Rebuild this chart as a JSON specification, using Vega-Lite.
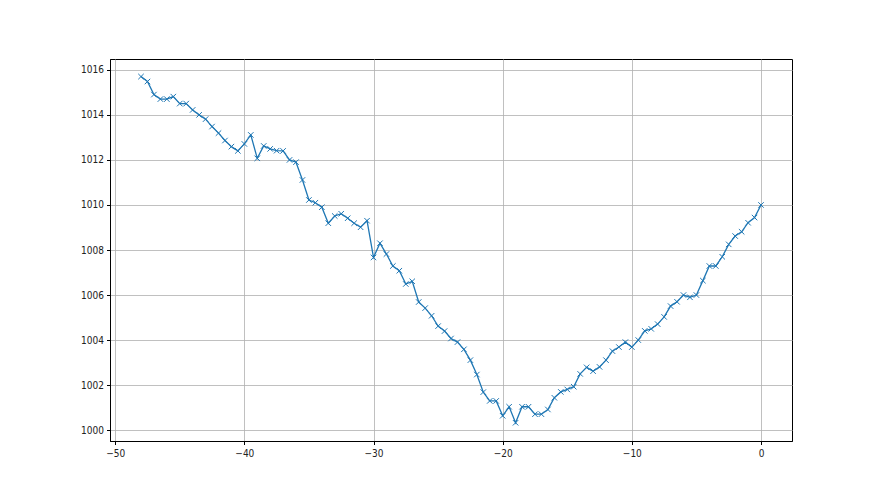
{
  "$schema": "https://vega.github.io/schema/vega-lite/v6.json",
  "autosize": {"type": "none"},
  "padding": {"left": 110, "top": 59, "right": 88, "bottom": 54},
  "width": 682,
  "height": 382,
  "background": "white",
  "config": {
    "view": {"stroke": "black", "strokeWidth": 1},
    "axis": {
      "labelFont": "Liberation Sans Narrow, DejaVu Sans Condensed, sans-serif",
      "labelFontSize": 10,
      "labelColor": "#222222",
      "domainColor": "black",
      "tickColor": "black",
      "tickSize": 3.5,
      "grid": true,
      "gridColor": "#b0b0b0",
      "gridWidth": 0.8,
      "title": null
    }
  },
  "data": {
    "values": [
      {"t": -48, "p": 1015.70}, {"t": -47.5, "p": 1015.48}, {"t": -47, "p": 1014.90}, {"t": -46.5, "p": 1014.70},
      {"t": -46, "p": 1014.70}, {"t": -45.5, "p": 1014.81}, {"t": -45, "p": 1014.50}, {"t": -44.5, "p": 1014.50},
      {"t": -44, "p": 1014.22}, {"t": -43.5, "p": 1014.00}, {"t": -43, "p": 1013.81}, {"t": -42.5, "p": 1013.48},
      {"t": -42, "p": 1013.19}, {"t": -41.5, "p": 1012.86}, {"t": -41, "p": 1012.59}, {"t": -40.5, "p": 1012.40},
      {"t": -40, "p": 1012.71}, {"t": -39.5, "p": 1013.11}, {"t": -39, "p": 1012.07}, {"t": -38.5, "p": 1012.62},
      {"t": -38, "p": 1012.49}, {"t": -37.5, "p": 1012.41}, {"t": -37, "p": 1012.40}, {"t": -36.5, "p": 1012.00},
      {"t": -36, "p": 1011.90}, {"t": -35.5, "p": 1011.11}, {"t": -35, "p": 1010.22}, {"t": -34.5, "p": 1010.10},
      {"t": -34, "p": 1009.90}, {"t": -33.5, "p": 1009.19}, {"t": -33, "p": 1009.51}, {"t": -32.5, "p": 1009.61},
      {"t": -32, "p": 1009.41}, {"t": -31.5, "p": 1009.19}, {"t": -31, "p": 1009.01}, {"t": -30.5, "p": 1009.30},
      {"t": -30, "p": 1007.67}, {"t": -29.5, "p": 1008.30}, {"t": -29, "p": 1007.82}, {"t": -28.5, "p": 1007.29},
      {"t": -28, "p": 1007.08}, {"t": -27.5, "p": 1006.49}, {"t": -27, "p": 1006.61}, {"t": -26.5, "p": 1005.69},
      {"t": -26, "p": 1005.42}, {"t": -25.5, "p": 1005.08}, {"t": -25, "p": 1004.62}, {"t": -24.5, "p": 1004.40},
      {"t": -24, "p": 1004.07}, {"t": -23.5, "p": 1003.91}, {"t": -23, "p": 1003.59}, {"t": -22.5, "p": 1003.11},
      {"t": -22, "p": 1002.47}, {"t": -21.5, "p": 1001.69}, {"t": -21, "p": 1001.30}, {"t": -20.5, "p": 1001.30},
      {"t": -20, "p": 1000.64}, {"t": -19.5, "p": 1001.04}, {"t": -19, "p": 1000.33}, {"t": -18.5, "p": 1001.04},
      {"t": -18, "p": 1001.04}, {"t": -17.5, "p": 1000.71}, {"t": -17, "p": 1000.71}, {"t": -16.5, "p": 1000.92},
      {"t": -16, "p": 1001.44}, {"t": -15.5, "p": 1001.70}, {"t": -15, "p": 1001.81}, {"t": -14.5, "p": 1001.93},
      {"t": -14, "p": 1002.50}, {"t": -13.5, "p": 1002.79}, {"t": -13, "p": 1002.62}, {"t": -12.5, "p": 1002.81},
      {"t": -12, "p": 1003.11}, {"t": -11.5, "p": 1003.51}, {"t": -11, "p": 1003.69}, {"t": -10.5, "p": 1003.91},
      {"t": -10, "p": 1003.69}, {"t": -9.5, "p": 1004.00}, {"t": -9, "p": 1004.41}, {"t": -8.5, "p": 1004.50},
      {"t": -8, "p": 1004.71}, {"t": -7.5, "p": 1005.03}, {"t": -7, "p": 1005.51}, {"t": -6.5, "p": 1005.70},
      {"t": -6, "p": 1006.00}, {"t": -5.5, "p": 1005.90}, {"t": -5, "p": 1006.00}, {"t": -4.5, "p": 1006.64},
      {"t": -4, "p": 1007.29}, {"t": -3.5, "p": 1007.29}, {"t": -3, "p": 1007.70}, {"t": -2.5, "p": 1008.25},
      {"t": -2, "p": 1008.62}, {"t": -1.5, "p": 1008.81}, {"t": -1, "p": 1009.21}, {"t": -0.5, "p": 1009.44},
      {"t": 0, "p": 1010.00}
    ]
  },
  "encoding": {
    "x": {
      "field": "t", "type": "quantitative",
      "scale": {"domain": [-50.4, 2.4], "nice": false, "zero": false},
      "axis": {"values": [-50, -40, -30, -20, -10, 0], "labelPadding": 4, "labelExpr": "replace(datum.label, '-', '\u2212')"}
    },
    "y": {
      "field": "p", "type": "quantitative",
      "scale": {"domain": [999.52, 1016.48], "nice": false, "zero": false},
      "axis": {"values": [1000, 1002, 1004, 1006, 1008, 1010, 1012, 1014, 1016], "labelPadding": 3, "format": "d"}
    }
  },
  "layer": [
    {"mark": {"type": "line", "color": "#1f77b4", "strokeWidth": 1.3, "clip": true}},
    {"mark": {"type": "point", "shape": "M-1,-1L1,1M-1,1L1,-1", "size": 30, "filled": false, "stroke": "#1f77b4", "strokeWidth": 1, "opacity": 1, "clip": true}}
  ]
}
